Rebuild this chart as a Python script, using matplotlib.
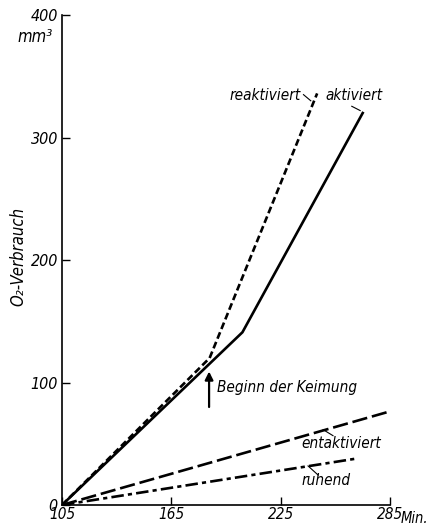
import matplotlib
matplotlib.use("Agg")
import matplotlib.pyplot as plt

# O2 consumption curves (Min. vs mm3)
akt_x = [105, 204, 270]
akt_y = [0, 141, 320]
reakt_x = [105, 186, 245]
reakt_y = [0, 120, 336]
entakt_x = [105, 291]
entakt_y = [0, 79]
ruhend_x = [105, 267]
ruhend_y = [0, 38]

xticks = [105, 165, 225, 285]
yticks = [0, 100, 200, 300, 400]

plt.rcParams['font.family'] = ['DejaVu Sans']
plt.rcParams['font.style'] = 'italic'
plt.rcParams['font.stretch'] = 'condensed'
plt.rcParams['lines.scale_dashes'] = False

fig = plt.figure(figsize=(4.28, 5.25), dpi=100)
ax = fig.add_axes([0.1449, 0.0381, 0.7664, 0.9333])

ax.plot(akt_x, akt_y, color='black', lw=1.9, solid_joinstyle='miter')
ax.plot(reakt_x, reakt_y, color='black', lw=1.9, dashes=(5, 2.5))
ax.plot(entakt_x, entakt_y, color='black', lw=1.9, dashes=(11, 3.5))
ax.plot(ruhend_x, ruhend_y, color='black', lw=1.9, dashes=(9, 3, 3, 3))

ax.set_xlim(105, 285)
ax.set_ylim(0, 400)
ax.set_xticks(xticks)
ax.set_yticks(yticks)
ax.set_xticklabels([str(v) for v in xticks])
ax.set_yticklabels([str(v) for v in yticks])
ax.tick_params(direction='in', length=6, width=1, labelsize=11.5, pad=3)
ax.tick_params(axis='x', pad=1.5, labelsize=11)
for s in ['top', 'right']:
    ax.spines[s].set_visible(False)
for s in ['left', 'bottom']:
    ax.spines[s].set_linewidth(1.2)

# unit labels
ax.text(-0.027, 382, 'mm³', transform=ax.get_yaxis_transform(),
        ha='right', va='center', fontsize=12)
ax.text(1.033, -0.027, 'Min.', transform=ax.transAxes,
        ha='left', va='center', fontsize=10.5)
ax.text(-0.133, 203, 'O₂-Verbrauch', transform=ax.get_yaxis_transform(),
        rotation=90, ha='center', va='center', fontsize=12)

# curve labels with little leader strokes
ax.text(197, 334, 'reaktiviert', ha='left', va='center', fontsize=11)
ax.plot([237.5, 241.5], [335, 330], color='black', lw=0.8)
ax.text(249.5, 334, 'aktiviert', ha='left', va='center', fontsize=11)
ax.plot([264, 268.6], [325.5, 322], color='black', lw=0.8)
ax.text(236.5, 50, 'entaktiviert', ha='left', va='center', fontsize=11)
ax.plot([248.3, 253.7], [61.5, 56.6], color='black', lw=0.8)
ax.text(236.5, 20, 'ruhend', ha='left', va='center', fontsize=11)
ax.plot([240, 245.5], [31.9, 24.5], color='black', lw=0.8)

# start of germination marker
ax.annotate('', xy=(185.7, 109), xytext=(185.7, 80),
            arrowprops=dict(arrowstyle='-|>', color='black', lw=1.6,
                            mutation_scale=12, shrinkA=0, shrinkB=0))
ax.text(190, 96, 'Beginn der Keimung', ha='left', va='center', fontsize=11)

fig.savefig('out.png', dpi=100)
